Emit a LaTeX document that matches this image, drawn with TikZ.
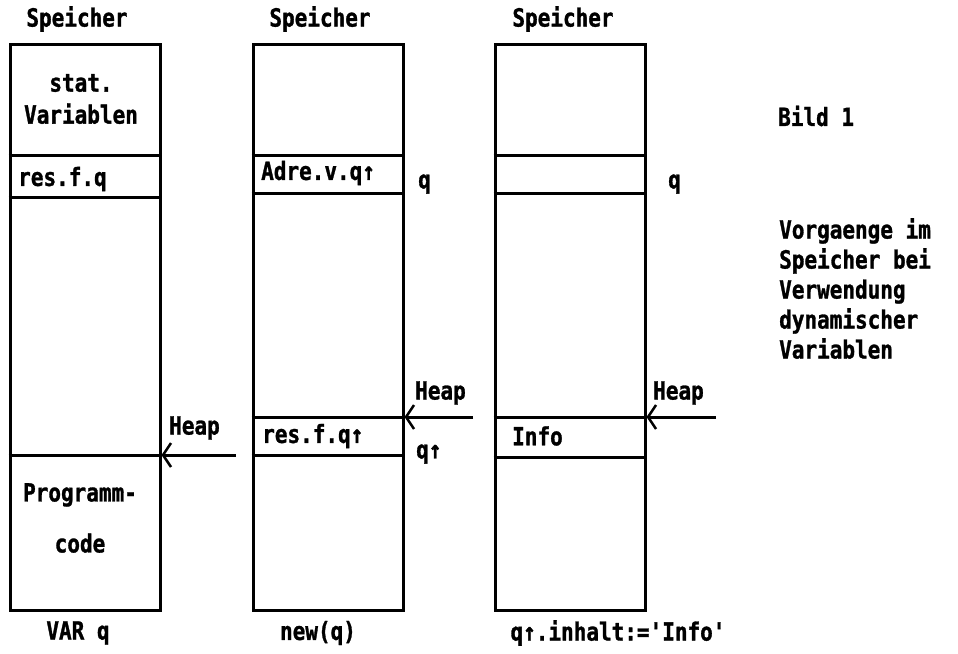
\documentclass[tikz,border=0pt]{standalone}
\usepackage{fontspec}
\newfontfamily\dosfont{DejaVu Sans Mono}[FakeStretch=0.84, FakeBold=1.2]
\usetikzlibrary{arrows.meta, positioning}

\begin{document}
\begin{tikzpicture}[x=1pt, y=-1pt,
    every node/.style={font=\dosfont\bfseries\fontsize{25}{30}\selectfont, inner sep=0pt},
    membox/.style={draw, line width=3pt, minimum width=150pt, minimum height=566pt},
    sep/.style={line width=3pt},
    heaparrow/.style={line width=3pt, -{Straight Barb[length=8pt, width=24pt, line width=2.5pt]}}]
  \useasboundingbox (0,0) rectangle (958,653);

  % Speicher vor und nach new(q)
  \node[membox] (memA) at (85,327) {};
  \node[membox] (memB) at (328,327) {};
  \node[membox] (memC) at (570,327) {};

  % Trennlinien
  \foreach \m/\ys in {memA/{155,197,455}, memB/{155,193,417,455}, memC/{155,193,417,457}} {
    \foreach \y in \ys
      \draw[sep] (\m.west |- 0,\y) -- (\m.east |- 0,\y);
  }

  % Ueberschriften
  \node (titA) at (77,19) {Speicher};
  \node (titB) at (320,19) {Speicher};
  \node (titC) at (563,19) {Speicher};

  % erster Speicher: VAR q
  \node[align=center, font=\dosfont\bfseries\fontsize{25}{32}\selectfont] (stat) at (81,99) {stat.\\Variablen};
  \node[anchor=west] (resA) at (18,179) {res.f.q};
  \node[align=center, font=\dosfont\bfseries\fontsize{25}{51}\selectfont] (prog) at (80,518) {Programm-\\code};
  \node (capA) at (78,633) {VAR q};
  \coordinate (heapA) at (236,455);
  \draw[heaparrow] (heapA) -- (memA.east |- heapA);
  \node[anchor=west] (hlA) at (169,428) {Heap};

  % zweiter Speicher: new(q)
  \node[anchor=west] (adr) at (261,173) {Adre.v.q↑};
  \node[anchor=west] (qB) at (418,184) {q};
  \node[anchor=west] (resB) at (262,436) {res.f.q↑};
  \node[anchor=west] (qpB) at (416,454) {q↑};
  \node (capB) at (318,633) {new(q)};
  \coordinate (heapB) at (473,417);
  \draw[heaparrow] (heapB) -- (memB.east |- heapB);
  \node[anchor=west] (hlB) at (415,393) {Heap};

  % dritter Speicher: Zuweisung
  \node[anchor=west] (qC) at (668,184) {q};
  \node[anchor=west] (info) at (512,436) {Info};
  \node (capC) at (618,633) {q↑.inhalt:='Info'};
  \coordinate (heapC) at (716,417);
  \draw[heaparrow] (heapC) -- (memC.east |- heapC);
  \node[anchor=west] (hlC) at (653,393) {Heap};

  % Beschriftung rechts
  \node[anchor=west] (bild) at (778,116) {Bild 1};
  \node[anchor=north west, align=left] (desc) at (779,218)
    {Vorgaenge im\\Speicher bei\\Verwendung\\dynamischer\\Variablen};
\end{tikzpicture}
\end{document}
